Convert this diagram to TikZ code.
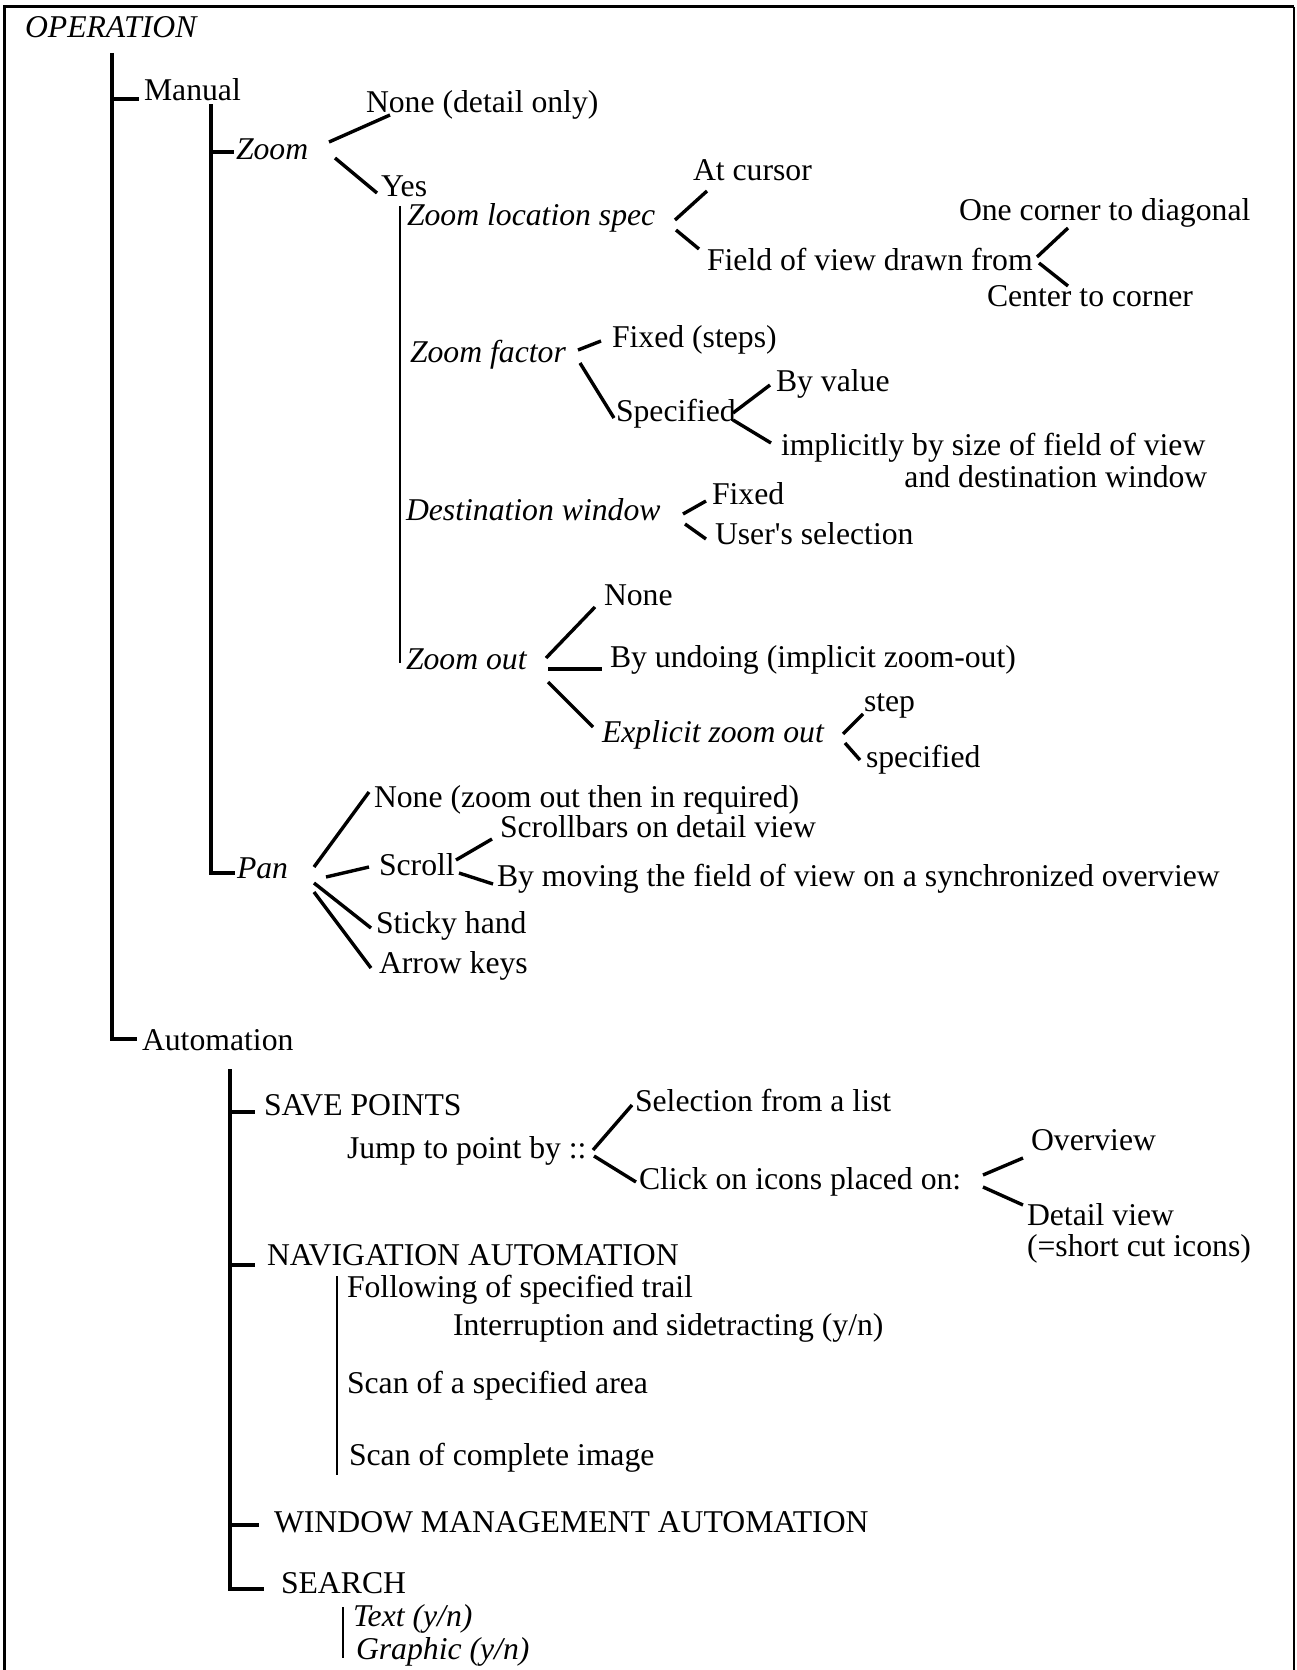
\documentclass[tikz,border=0pt]{standalone}
\usepackage{fontspec}
\setmainfont{Liberation Serif}
\begin{document}
\begin{tikzpicture}[x=1pt,y=-1pt,
  tx/.style={inner sep=0pt, outer sep=0pt, anchor=base west,
             font=\fontsize{31.7pt}{32pt}\selectfont},
  it/.style={tx, font=\fontsize{31.7pt}{32pt}\selectfont\itshape},
  link/.style={line width=3.4pt},
  thinlink/.style={line width=2.2pt}]
\useasboundingbox (0,0) rectangle (1296,1670);

% outer frame (open at the bottom)
\draw[line width=3pt] (4,1672) -- (4,7) -- (1294,7);
\draw[line width=2pt] (1294,7) -- (1294,1672);

% ---------- labels ----------
\node[it] (op) at (25,38) {OPERATION};
\node[tx] (manual) at (144,100) {Manual};
\node[it] (zoom) at (236,159) {Zoom};
\node[tx] (zno) at (366,112) {None (detail only)};
\node[tx] (zyes) at (381,196) {Yes};
\node[it] (zloc) at (407,225) {Zoom location spec};
\node[tx] (atcur) at (693,180) {At cursor};
\node[tx] (fov) at (707,270) {Field of view drawn from};
\node[tx] (onec) at (959,220) {One corner to diagonal};
\node[tx] (cent) at (987,306) {Center to corner};
\node[it] (zfac) at (410,362) {Zoom factor};
\node[tx] (fixst) at (612,347) {Fixed (steps)};
\node[tx] (spec) at (616,421) {Specified};
\node[tx] (byval) at (776,391) {By value};
\node[tx] (impl) at (781,455) {implicitly by size of field of view};
\node[tx, anchor=base east] (impl2) at ([shift={(2,32)}]impl.base east) {and destination window};
\node[it] (dwin) at (406,520) {Destination window};
\node[tx] (dfix) at (712,504) {Fixed};
\node[tx] (duser) at (715,544) {User\textquotesingle s selection};
\node[it] (zout) at (406,669) {Zoom out};
\node[tx] (zonone) at (604,605) {None};
\node[tx] (undo) at (610,667) {By undoing (implicit zoom-out)};
\node[it] (expl) at (602,742) {Explicit zoom out};
\node[tx] (nstep) at (864,711) {step};
\node[tx] (specd) at (866,767) {specified};
\node[it] (pan) at (237,878) {Pan};
\node[tx] (pnone) at (374,807) {None (zoom out then in required)};
\node[tx] (scroll) at (379,875) {Scroll};
\node[tx] (sbars) at (500,837) {Scrollbars on detail view};
\node[tx] (bymov) at (497,886) {By moving the field of view on a synchronized overview};
\node[tx] (sticky) at (376,933) {Sticky hand};
\node[tx] (arrow) at (379,973) {Arrow keys};
\node[tx] (auto) at (142,1050) {Automation};
\node[tx] (save) at (264,1115) {SAVE POINTS};
\node[tx] (jump) at (347,1158) {Jump to point by ::};
\node[tx] (sel) at (635,1111) {Selection from a list};
\node[tx] (click) at (639,1189) {Click on icons placed on:};
\node[tx] (over) at (1031,1150) {Overview};
\node[tx] (detail) at (1027,1225) {Detail view};
\node[tx] (cut) at (1027,1256) {(=short cut icons)};
\node[tx] (nav) at (267,1265) {NAVIGATION AUTOMATION};
\node[tx] (follow) at (347,1297) {Following of specified trail};
\node[tx] (interr) at (453,1335) {Interruption and sidetracting (y/n)};
\node[tx] (scanarea) at (347,1393) {Scan of a specified area};
\node[tx] (scanall) at (349,1465) {Scan of complete image};
\node[tx] (wind) at (274,1532) {WINDOW MANAGEMENT AUTOMATION};
\node[tx] (search) at (281,1593) {SEARCH};
\node[it] (text) at (353,1626) {Text (y/n)};
\node[it] (graphic) at (356,1659) {Graphic (y/n)};

% ---------- tree spines and ticks ----------
\draw[link] ([shift={(87,15)}]op.base west) |- ([shift={(-5,-11)}]auto.base west);
\draw[link] ([shift={(-32,-1)}]manual.base west) -- ([shift={(-5,-1)}]manual.base west);
\draw[link] ([shift={(67,4)}]manual.base west) |- ([shift={(-2,-5)}]pan.base west);
\draw[link] ([shift={(-25,-7)}]zoom.base west) -- ([shift={(-2,-7)}]zoom.base west);
\draw[thinlink] ([shift={(19,10)}]zyes.base west) -- ([shift={(-6,-6)}]zout.base west);

\draw[link] ([shift={(88,19)}]auto.base west) |- ([shift={(-17,-4)}]search.base west);
\draw[link] ([shift={(-34,-3)}]save.base west) -- ([shift={(-9,-3)}]save.base west);
\draw[link] ([shift={(-37,0)}]nav.base west) -- ([shift={(-12,0)}]nav.base west);
\draw[link] ([shift={(-44,-7)}]wind.base west) -- ([shift={(-15,-7)}]wind.base west);
\draw[thinlink] ([shift={(-10,-21)}]follow.base west) -- ([shift={(-12,10)}]scanall.base west);
\draw[thinlink] ([shift={(-10,-19)}]text.base west) -- ([shift={(-13,-1)}]graphic.base west);

% ---------- branch connectors ----------
\draw[link] ([shift={(93,-17)}]zoom.base west) -- ([shift={(24,3)}]zno.base west);
\draw[link] ([shift={(99,-1)}]zoom.base west) -- ([shift={(-4,-3)}]zyes.base west);
\draw[link] ([shift={(268,-5)}]zloc.base west) -- ([shift={(14,11)}]atcur.base west);
\draw[link] ([shift={(269,5)}]zloc.base west) -- ([shift={(-8,-21)}]fov.base west);
\draw[link] ([shift={(330,-13)}]fov.base west) -- ([shift={(109,8)}]onec.base west);
\draw[link] ([shift={(332,-7)}]fov.base west) -- ([shift={(81,-20)}]cent.base west);
\draw[link] ([shift={(168,-12)}]zfac.base west) -- ([shift={(-11,-6)}]fixst.base west);
\draw[link] ([shift={(170,1)}]zfac.base west) -- ([shift={(-2,-3)}]spec.base west);
\draw[link] ([shift={(117,-8)}]spec.base west) -- ([shift={(-6,-6)}]byval.base west);
\draw[link] ([shift={(117,-1)}]spec.base west) -- ([shift={(-10,-12)}]impl.base west);
\draw[link] ([shift={(277,-6)}]dwin.base west) -- ([shift={(-6,-3)}]dfix.base west);
\draw[link] ([shift={(279,4)}]dwin.base west) -- ([shift={(-9,-5)}]duser.base west);
\draw[link] ([shift={(140,-11)}]zout.base west) -- ([shift={(-9,2)}]zonone.base west);
\draw[link] ([shift={(142,0)}]zout.base west) -- ([shift={(-8,2)}]undo.base west);
\draw[link] ([shift={(142,13)}]zout.base west) -- ([shift={(-9,-15)}]expl.base west);
\draw[link] ([shift={(241,-8)}]expl.base west) -- ([shift={(-1,3)}]nstep.base west);
\draw[link] ([shift={(243,1)}]expl.base west) -- ([shift={(-6,-7)}]specd.base west);
\draw[link] ([shift={(77,-11)}]pan.base west) -- ([shift={(-5,-15)}]pnone.base west);
\draw[link] ([shift={(89,-1)}]pan.base west) -- ([shift={(-10,-8)}]scroll.base west);
\draw[link] ([shift={(77,-15)}]scroll.base west) -- ([shift={(-8,2)}]sbars.base west);
\draw[link] ([shift={(80,-2)}]scroll.base west) -- ([shift={(-4,-2)}]bymov.base west);
\draw[link] ([shift={(77,5)}]pan.base west) -- ([shift={(-5,-5)}]sticky.base west);
\draw[link] ([shift={(77,14)}]pan.base west) -- ([shift={(-8,-5)}]arrow.base west);
\draw[link] ([shift={(246,-8)}]jump.base west) -- ([shift={(-3,-6)}]sel.base west);
\draw[link] ([shift={(247,-2)}]jump.base west) -- ([shift={(-3,-7)}]click.base west);
\draw[link] ([shift={(344,-14)}]click.base west) -- ([shift={(-8,8)}]over.base west);
\draw[link] ([shift={(344,-2)}]click.base west) -- ([shift={(-4,-20)}]detail.base west);
\end{tikzpicture}
\end{document}
